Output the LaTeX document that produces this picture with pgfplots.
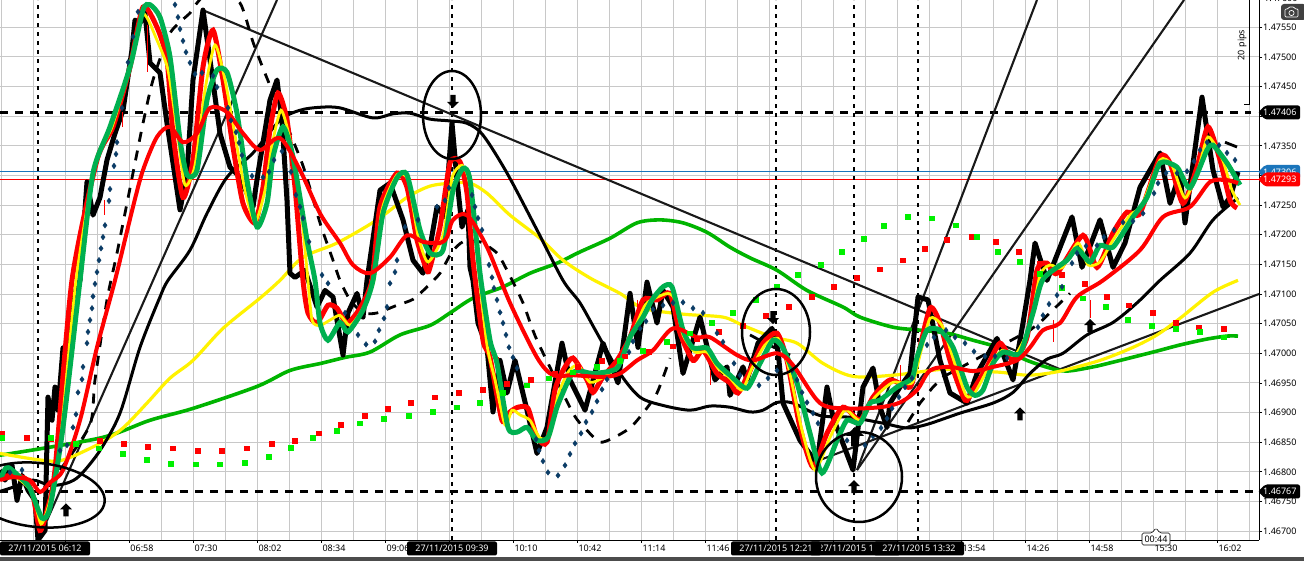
\documentclass[border=0pt]{standalone}
\usepackage{fontspec}
\setmainfont{Noto Sans}
\usepackage{pgfplots}
\pgfplotsset{compat=1.18}

\definecolor{gridc}{HTML}{C8C8C8}
\definecolor{fastgreen}{HTML}{00B050}
\definecolor{slowgreen}{HTML}{00B400}
\definecolor{navy}{HTML}{0B3C66}
\definecolor{psgreen}{HTML}{00F000}
\definecolor{bluetag}{HTML}{1B75BB}

% block arrows used on the chart
\pgfdeclareplotmark{uparrow}{%
  \pgfpathmoveto{\pgfqpoint{0pt}{7pt}}\pgfpathlineto{\pgfqpoint{6pt}{1pt}}\pgfpathlineto{\pgfqpoint{2.6pt}{1pt}}%
  \pgfpathlineto{\pgfqpoint{2.6pt}{-6pt}}\pgfpathlineto{\pgfqpoint{-2.6pt}{-6pt}}\pgfpathlineto{\pgfqpoint{-2.6pt}{1pt}}%
  \pgfpathlineto{\pgfqpoint{-6pt}{1pt}}\pgfpathclose\pgfusepathqfill}
\pgfdeclareplotmark{downarrow}{%
  \pgfpathmoveto{\pgfqpoint{0pt}{-7pt}}\pgfpathlineto{\pgfqpoint{6pt}{-1pt}}\pgfpathlineto{\pgfqpoint{2.6pt}{-1pt}}%
  \pgfpathlineto{\pgfqpoint{2.6pt}{6pt}}\pgfpathlineto{\pgfqpoint{-2.6pt}{6pt}}\pgfpathlineto{\pgfqpoint{-2.6pt}{-1pt}}%
  \pgfpathlineto{\pgfqpoint{-6pt}{-1pt}}\pgfpathclose\pgfusepathqfill}

\newcommand{\tickfont}{\fontsize{9}{10}\selectfont}
% picture coordinates: 1 px = 1 pt, y counted down from the top of the plot
\newcommand{\px}[2]{(#1pt,{540pt-(#2pt)})}
\newcommand{\datebox}[2]{\node[fill=black,text=white,rounded corners=2pt,inner sep=0pt,minimum width=90pt,minimum height=14pt,font=\tickfont] at \px{#1}{548.5} {#2};}
\newcommand{\flag}[4]{\begin{scope}[yshift={540pt-(#1pt)}]
  \fill[#2,rounded corners=2pt] (1265pt,7pt) -- (1300pt,7pt) -- (1300pt,-7pt) -- (1265pt,-7pt) -- (1258pt,0pt) -- cycle;
  \node[text=#3,anchor=west,inner sep=0pt,font=\tickfont] at (1263pt,0pt) {#4};
  \end{scope}}

\begin{document}
\begin{tikzpicture}
\path[use as bounding box] (0,-21pt) rectangle (1304pt,540pt);
\fill[white] (0,-21pt) rectangle (1304pt,540pt);
\fill[black!70] (0,-21pt) rectangle (1304pt,-17pt);
\begin{axis}[
  at={(0,0)},anchor=south west,
  scale only axis,width=1259pt,height=540pt,
  xmin=0,xmax=1259,ymin=1.46685,ymax=1.47596,
  axis x line=bottom,axis y line=right,
  axis line style={-,black,line width=0.9pt},
  xtick={65,129,193,257,321,385,449,513,577,641,705,769,833,897,961,1025,1089,1153,1217},
  xticklabels={06:26,06:58,07:30,08:02,08:34,09:06,09:38,10:10,10:42,11:14,11:46,12:18,12:50,13:22,13:54,14:26,14:58,15:30,16:02},
  minor xtick={1,33,97,161,225,289,353,417,481,545,609,673,737,801,865,929,993,1057,1121,1185,1249},
  ytick={1.467,1.4675,1.468,1.4685,1.469,1.4695,1.47,1.4705,1.471,1.4715,1.472,1.4725,1.473,1.4735,1.474,1.4745,1.475,1.4755},
  yticklabels={1.46700,1.46750,1.46800,1.46850,1.46900,1.46950,1.47000,1.47050,1.47100,1.47150,1.47200,1.47250,1.47300,1.47350,1.47400,1.47450,1.47500,1.47550},
  grid=both,
  grid style={gridc,line width=0.9pt},
  minor grid style={gridc,line width=0.9pt},
  tick align=outside,major tick length=3pt,minor tick length=0pt,
  tick style={black,line width=0.7pt},
  xticklabel style={font=\tickfont,xshift=13pt,yshift=-1pt,inner sep=1pt},
  yticklabel style={font=\tickfont,anchor=west,inner sep=1pt},
  axis on top=false,
]
% level lines
\addplot[black,line width=2.6pt,dash pattern=on 8pt off 7pt] coordinates {(0,1.47406) (1251,1.47406)};
\addplot[black,line width=2.6pt,dash pattern=on 8pt off 7pt] coordinates {(0,1.46767) (1259,1.46767)};
\addplot[bluetag,line width=0.9pt] coordinates {(0,1.47306) (1259,1.47306)};
\addplot[red,line width=0.9pt] coordinates {(0,1.47293) (1259,1.47293)};
\addplot[black,line width=2.6pt,dash pattern=on 4pt off 5pt] coordinates {(38,1.46685) (38,1.47596)};
\addplot[black,line width=2.6pt,dash pattern=on 4pt off 5pt] coordinates {(452,1.46685) (452,1.47596)};
\addplot[black,line width=2.6pt,dash pattern=on 4pt off 5pt] coordinates {(776,1.46685) (776,1.47596)};
\addplot[black,line width=2.6pt,dash pattern=on 4pt off 5pt] coordinates {(854,1.46685) (854,1.47596)};
\addplot[black,line width=2.6pt,dash pattern=on 4pt off 5pt] coordinates {(918,1.46685) (918,1.47596)};
% trend lines
\addplot[black!90,line width=2.1pt] coordinates {(47,1.46718) (277,1.47596)};
\addplot[black!90,line width=2.1pt] coordinates {(204,1.47578) (1063,1.46971)};
\addplot[black!90,line width=2.1pt] coordinates {(857,1.46803) (1037,1.47596)};
\addplot[black!90,line width=2.1pt] coordinates {(857,1.46803) (1184,1.47596)};
\addplot[black!90,line width=2.1pt] coordinates {(820,1.46820) (1259,1.47100)};
% parabolic dots
\addplot[only marks,mark=square*,mark size=2.4pt,mark options={red,draw=red}] coordinates {
(2,1.46865) (27,1.46858) (51,1.46855) (100,1.46852) (124,1.46847) (148,1.46843) (173,1.46840) (198,1.46836) (222,1.46836) (247,1.46840) (272,1.46847) (295,1.46853) (319,1.46865) (341,1.46880) (365,1.46895) (388,1.46907) (411,1.46917) (435,1.46926) (459,1.46933) (483,1.46939) (507,1.46948) (531,1.46956) (555,1.46966) (578,1.46978) (602,1.46988) (625,1.46995) (649,1.47002) (673,1.47012) (697,1.47025) (719,1.47036) (743,1.47047) (766,1.47063) (789,1.47078) (812,1.47095) (834,1.47112) (857,1.47128) (880,1.47142) (903,1.47157) (925,1.47176) (947,1.47191) (972,1.47196) (996,1.47188) (1019,1.47172) (1040,1.47152) (1062,1.47132) (1085,1.47118) (1107,1.47096) (1129,1.47081) (1153,1.47069) (1176,1.47052) (1199,1.47044) (1224,1.47042)};
\addplot[only marks,mark=square*,mark size=2.4pt,mark options={psgreen,draw=psgreen}] coordinates {
(2,1.46858) (51,1.46858) (76,1.46848) (99,1.46840) (123,1.46830) (147,1.46820) (171,1.46814) (196,1.46813) (220,1.46813) (245,1.46816) (269,1.46825) (291,1.46841) (313,1.46857) (337,1.46870) (360,1.46882) (384,1.46890) (409,1.46895) (433,1.46902) (457,1.46909) (480,1.46917) (503,1.46933) (527,1.46946) (549,1.46958) (573,1.46968) (597,1.46978) (620,1.46988) (643,1.47005) (667,1.47019) (690,1.47034) (712,1.47051) (733,1.47069) (756,1.47090) (777,1.47112) (798,1.47132) (821,1.47150) (842,1.47171) (864,1.47193) (884,1.47215) (908,1.47230) (932,1.47228) (956,1.47216) (977,1.47196) (998,1.47172) (1020,1.47154) (1040,1.47134) (1062,1.47110) (1083,1.47093) (1106,1.47078) (1128,1.47056) (1152,1.47046) (1176,1.47041) (1200,1.47037) (1224,1.47027)};
% slow averages
\addplot[slowgreen,line width=3.6pt,smooth,tension=0.5] coordinates {
(0,1.46828) (100,1.46857) (150,1.46887) (193,1.46907) (257,1.46944) (290,1.46971) (321,1.46983) (345,1.46993) (370,1.47002) (400,1.47031) (430,1.47047) (450,1.47068) (473,1.47093) (503,1.47112) (530,1.47135) (557,1.47152) (580,1.47171) (610,1.47194) (637,1.47220) (660,1.47225) (683,1.47220) (707,1.47204) (730,1.47179) (750,1.47161) (777,1.47140) (807,1.47106) (843,1.47078) (860,1.47061) (893,1.47044) (920,1.47039) (947,1.47034) (973,1.47022) (1000,1.47009) (1027,1.46988) (1050,1.46975) (1067,1.46970) (1093,1.46977) (1113,1.46985) (1153,1.47002) (1180,1.47014) (1207,1.47024) (1227,1.47029) (1238,1.47029)};
\addplot[yellow,line width=3.2pt,smooth,tension=0.5] coordinates {
(0,1.46831) (40,1.46820) (63,1.46820) (100,1.46848) (123,1.46874) (147,1.46916) (170,1.46958) (193,1.46988) (223,1.47042) (260,1.47093) (280,1.47123) (303,1.47162) (337,1.47186) (377,1.47225) (407,1.47263) (430,1.47282) (452,1.47287) (470,1.47287) (487,1.47270) (510,1.47233) (540,1.47194) (563,1.47157) (590,1.47127) (620,1.47101) (643,1.47076) (683,1.47066) (723,1.47061) (743,1.47047) (773,1.47027) (797,1.47017) (823,1.46983) (853,1.46961) (893,1.46963) (943,1.46973) (973,1.46970) (1000,1.46968) (1027,1.46963) (1047,1.46966) (1063,1.46971) (1100,1.46988) (1133,1.47010) (1157,1.47031) (1180,1.47059) (1213,1.47103) (1238,1.47123)};
% price
\addplot[black,line width=5pt,line join=round] coordinates {
(0,1.46803) (5,1.46786) (12,1.46811) (17,1.46752) (22,1.46794) (28,1.46769) (35,1.46752) (38,1.46685) (45,1.46701) (48,1.46926) (52,1.46887) (55,1.46943) (58,1.46904) (63,1.47009) (68,1.46980) (72,1.47090) (80,1.47123) (87,1.47289) (93,1.47233) (100,1.47263) (107,1.47326) (115,1.47371) (123,1.47410) (132,1.47512) (135,1.47562) (140,1.47557) (145,1.47574) (150,1.47490) (160,1.47473) (167,1.47388) (173,1.47321) (180,1.47242) (187,1.47304) (193,1.47461) (203,1.47579) (210,1.47495) (220,1.47371) (230,1.47314) (240,1.47297) (253,1.47247) (258,1.47304) (270,1.47427) (277,1.47461) (282,1.47393) (287,1.47258) (290,1.47135) (295,1.47128) (305,1.47140) (317,1.47078) (325,1.47106) (333,1.47095) (343,1.46997) (348,1.47068) (357,1.47101) (363,1.47061) (367,1.47123) (380,1.47275) (390,1.47287) (403,1.47225) (413,1.47157) (423,1.47135) (430,1.47179) (437,1.47247) (445,1.47230) (452,1.47388) (457,1.47292) (462,1.47213) (468,1.47242) (470,1.47145) (473,1.47123) (478,1.47051) (487,1.47010) (493,1.46901) (500,1.46988) (507,1.46933) (515,1.46988) (527,1.46904) (537,1.46831) (547,1.46875) (562,1.47017) (570,1.46955) (585,1.46904) (603,1.47017) (618,1.46950) (630,1.47101) (638,1.47010) (647,1.47120) (657,1.47051) (663,1.47106) (673,1.47078) (683,1.46966) (700,1.47061) (715,1.46955) (727,1.46977) (730,1.46929) (743,1.46977) (747,1.46955) (758,1.47017) (772,1.47042) (778,1.47005) (783,1.46916) (800,1.46853) (817,1.46814) (827,1.46943) (833,1.46892) (853,1.46803) (863,1.46943) (873,1.46975) (880,1.46909) (887,1.46875) (890,1.46916) (900,1.46943) (910,1.46966) (918,1.47095) (928,1.47090) (940,1.46988) (950,1.46933) (967,1.46916) (977,1.46966) (997,1.47025) (1013,1.46955) (1023,1.47051) (1030,1.47123) (1035,1.47186) (1047,1.47123) (1072,1.47230) (1082,1.47145) (1100,1.47225) (1113,1.47145) (1125,1.47186) (1140,1.47280) (1160,1.47338) (1170,1.47253) (1180,1.47304) (1185,1.47220) (1202,1.47432) (1213,1.47309) (1223,1.47247) (1230,1.47263) (1238,1.47306)};
% thin red wicks
\addplot[red,line width=0.9pt,unbounded coords=jump] coordinates {
(147,1.47554) (147,1.47474) (148,nan) (122,1.47407) (122,1.47382) (123,nan) (104,1.47258) (104,1.47233) (105,nan) (248,1.47301) (248,1.47270) (249,nan) (498,1.46993) (498,1.46971) (499,nan) (637,1.47090) (637,1.47073) (638,nan) (710,1.46971) (710,1.46946) (711,nan) (900,1.46980) (900,1.46946) (901,nan) (1053,1.47056) (1053,1.47019) (1054,nan) (1090,1.47090) (1090,1.47059)};
% dashed black average
\addplot[black,line width=2.8pt,dash pattern=on 10pt off 9pt,smooth,tension=0.4] coordinates {
(60,1.46803) (90,1.46879) (95,1.46955) (107,1.47090) (117,1.47169) (127,1.47253) (133,1.47304) (143,1.47388) (153,1.47461) (170,1.47540) (190,1.47574) (197,1.47591) (215,1.47620) (240,1.47591) (253,1.47525) (267,1.47464) (302,1.47321) (320,1.47220) (333,1.47157) (340,1.47123) (350,1.47090) (363,1.47068) (377,1.47068) (397,1.47081) (413,1.47091) (427,1.47112) (440,1.47135) (452,1.47171) (463,1.47188) (480,1.47188) (497,1.47169) (507,1.47140) (523,1.47085) (537,1.47022) (573,1.46899) (587,1.46870) (600,1.46850) (613,1.46857) (630,1.46874) (643,1.46899) (657,1.46933) (670,1.46992)};
\addplot[black,line width=2.8pt,dash pattern=on 10pt off 9pt] coordinates {(750,1.47031) (763,1.47019) (790,1.46997)};
\addplot[black,line width=2.8pt,dash pattern=on 10pt off 9pt] coordinates {(908,1.46884) (920,1.46916) (933,1.46943) (943,1.46960) (1030,1.47039) (1040,1.47052) (1070,1.47101)};
\addplot[black,line width=2.8pt] coordinates {(1225,1.47356) (1237,1.47348)};
% navy dotted average
\addplot[only marks,mark=diamond*,mark size=2.8pt,mark options={navy,draw=navy}] coordinates {
(10,1.46799) (22,1.46803) (60,1.46836) (67,1.46845) (73,1.46875) (76,1.46897) (78,1.46934) (82,1.46956) (83,1.46977) (87,1.47017) (88,1.47036) (90,1.47056) (92,1.47076) (93,1.47096) (95,1.47117) (97,1.47137) (99,1.47157) (101,1.47177) (103,1.47196) (105,1.47216) (109,1.47257) (110,1.47277) (114,1.47316) (116,1.47336) (117,1.47356) (122,1.47414) (128,1.47491) (133,1.47534) (138,1.47576) (175,1.47588) (178,1.47567) (180,1.47547) (183,1.47527) (186,1.47508) (190,1.47490) (195,1.47471) (202,1.47473) (213,1.47468) (217,1.47449) (228,1.47414) (231,1.47393) (236,1.47373) (239,1.47355) (242,1.47334) (252,1.47299) (263,1.47297) (269,1.47306) (274,1.47326) (282,1.47341) (291,1.47306) (296,1.47267) (300,1.47247) (303,1.47228) (309,1.47188) (322,1.47132) (328,1.47118) (345,1.47068) (358,1.47031) (366,1.47015) (375,1.47020) (379,1.47039) (384,1.47059) (387,1.47078) (390,1.47118) (395,1.47137) (397,1.47157) (405,1.47213) (418,1.47225) (437,1.47247) (445,1.47258) (449,1.47279) (472,1.47267) (475,1.47247) (478,1.47228) (482,1.47208) (489,1.47149) (492,1.47128) (494,1.47110) (497,1.47090) (500,1.47069) (503,1.47051) (506,1.47031) (509,1.47010) (513,1.46993) (517,1.46975) (536,1.46855) (539,1.46836) (543,1.46818) (548,1.46799) (558,1.46794) (565,1.46811) (570,1.46830) (575,1.46848) (581,1.46865) (586,1.46884) (592,1.46901) (597,1.46919) (602,1.46939) (607,1.46956) (629,1.47002) (633,1.47020) (640,1.47042) (646,1.47054) (653,1.47074) (663,1.47081) (673,1.47085) (683,1.47086) (693,1.47076) (703,1.47068) (717,1.47034) (723,1.47019) (734,1.46983) (740,1.46963) (759,1.46946) (768,1.46958) (777,1.46971) (792,1.46971) (797,1.46955) (802,1.46934) (807,1.46917) (813,1.46899) (818,1.46882) (847,1.46853) (865,1.46845) (873,1.46860) (881,1.46874) (887,1.46890) (892,1.46907) (899,1.46926) (905,1.46943) (912,1.46958) (927,1.47014) (934,1.47027) (946,1.47039) (955,1.47027) (965,1.47017) (974,1.47003) (985,1.46995) (995,1.46995) (1007,1.46992) (1038,1.47044) (1043,1.47064) (1049,1.47083) (1057,1.47098) (1062,1.47112) (1072,1.47152) (1077,1.47169) (1086,1.47181) (1097,1.47182) (1104,1.47196) (1114,1.47208) (1123,1.47221) (1133,1.47223) (1143,1.47236) (1154,1.47270) (1158,1.47287) (1166,1.47304) (1177,1.47304) (1187,1.47307) (1194,1.47324) (1200,1.47343) (1207,1.47356) (1219,1.47351) (1227,1.47338) (1235,1.47326)};
% slow black
\addplot[black,line width=3pt,smooth,tension=0.5] coordinates {
(0,1.46767) (13,1.46774) (33,1.46786) (50,1.46777) (67,1.46781) (80,1.46794) (100,1.46836) (120,1.46899) (140,1.47010) (160,1.47095) (168,1.47123) (190,1.47174) (207,1.47236) (227,1.47297) (253,1.47338) (280,1.47393) (300,1.47410) (320,1.47415) (340,1.47414) (373,1.47397) (393,1.47404) (410,1.47405) (430,1.47395) (450,1.47392) (467,1.47388) (483,1.47368) (507,1.47304) (537,1.47208) (563,1.47123) (580,1.47085) (597,1.47034) (620,1.46966) (640,1.46926) (663,1.46912) (690,1.46904) (710,1.46911) (730,1.46909) (750,1.46901) (763,1.46904) (777,1.46917) (793,1.46916) (820,1.46895) (850,1.46892) (883,1.46882) (907,1.46874) (927,1.46880) (960,1.46899) (993,1.46916) (1013,1.46934) (1030,1.46966) (1047,1.46990) (1063,1.47000) (1087,1.47031) (1113,1.47052) (1137,1.47085) (1160,1.47123) (1190,1.47169) (1213,1.47225) (1238,1.47262)};
% fast averages
\addplot[red,line width=5pt,smooth,tension=0.4] coordinates {
(0,1.46789) (10,1.46794) (25,1.46789) (33,1.46760) (40,1.46701) (47,1.46735) (55,1.46803) (72,1.47123) (97,1.47326) (113,1.47382) (130,1.47483) (143,1.47584) (157,1.47550) (167,1.47495) (173,1.47371) (183,1.47263) (193,1.47326) (203,1.47483) (213,1.47545) (223,1.47461) (233,1.47348) (243,1.47253) (255,1.47220) (263,1.47280) (270,1.47377) (278,1.47439) (287,1.47393) (295,1.47280) (303,1.47123) (308,1.47068) (317,1.47051) (328,1.47081) (337,1.47076) (347,1.47051) (360,1.47076) (372,1.47123) (380,1.47247) (397,1.47304) (407,1.47280) (417,1.47191) (427,1.47140) (430,1.47145) (440,1.47213) (450,1.47321) (460,1.47323) (467,1.47270) (473,1.47157) (483,1.47022) (490,1.46993) (502,1.46887) (510,1.46901) (518,1.46909) (528,1.46907) (537,1.46858) (547,1.46850) (555,1.46938) (563,1.46971) (573,1.46992) (587,1.46955) (593,1.46934) (603,1.46960) (617,1.46988) (630,1.47027) (643,1.47090) (657,1.47090) (670,1.47101) (680,1.47034) (693,1.46988) (703,1.47005) (717,1.46966) (730,1.46950) (738,1.46933) (750,1.46971) (763,1.47017) (777,1.47034) (787,1.46988) (800,1.46875) (813,1.46808) (827,1.46865) (843,1.46909) (860,1.46887) (873,1.46926) (890,1.46955) (910,1.46943) (917,1.46988) (930,1.47076) (940,1.47051) (950,1.46988) (965,1.46921) (973,1.46938) (987,1.46977) (1000,1.47017) (1013,1.46988) (1027,1.47027) (1037,1.47140) (1047,1.47152) (1057,1.47135) (1083,1.47199) (1097,1.47145) (1113,1.47203) (1127,1.47238) (1140,1.47236) (1160,1.47331) (1170,1.47321) (1183,1.47253) (1197,1.47314) (1208,1.47382) (1220,1.47326) (1230,1.47258) (1237,1.47245)};
\addplot[yellow,line width=2.8pt,smooth,tension=0.4] coordinates {
(15,1.46793) (32,1.46766) (41,1.46712) (50,1.46752) (60,1.46845) (76,1.47123) (95,1.47317) (112,1.47382) (130,1.47483) (143,1.47572) (157,1.47528) (168,1.47478) (177,1.47377) (185,1.47284) (195,1.47317) (205,1.47444) (215,1.47520) (225,1.47461) (235,1.47368) (245,1.47275) (255,1.47221) (265,1.47275) (272,1.47351) (281,1.47410) (290,1.47360) (300,1.47258) (307,1.47140) (312,1.47056) (320,1.47047) (330,1.47056) (340,1.47064) (350,1.47047) (362,1.47073) (374,1.47123) (382,1.47242) (397,1.47301) (408,1.47292) (418,1.47199) (428,1.47154) (443,1.47199) (452,1.47296) (462,1.47317) (470,1.47284) (478,1.47149) (487,1.47014) (495,1.46955) (505,1.46879) (512,1.46904) (520,1.46896) (530,1.46887) (540,1.46857) (550,1.46862) (558,1.46929) (568,1.46968) (578,1.46980) (590,1.46951) (604,1.46960) (618,1.46980) (632,1.47031) (645,1.47081) (655,1.47093) (668,1.47101) (675,1.47090) (683,1.47031) (695,1.47002) (707,1.47002) (718,1.46975) (730,1.46958) (742,1.46938) (752,1.46975) (765,1.47014) (778,1.47025) (788,1.46980) (802,1.46870) (815,1.46803) (830,1.46858) (845,1.46904) (860,1.46887) (875,1.46926) (893,1.46951) (912,1.46950) (920,1.46997) (930,1.47059) (942,1.47047) (952,1.46997) (966,1.46929) (975,1.46934) (990,1.46980) (1002,1.47005) (1015,1.46997) (1030,1.47047) (1040,1.47132) (1050,1.47149) (1062,1.47144) (1078,1.47186) (1088,1.47149) (1100,1.47154) (1113,1.47191) (1130,1.47233) (1142,1.47250) (1160,1.47326) (1172,1.47317) (1185,1.47262) (1198,1.47309) (1208,1.47365) (1222,1.47329) (1232,1.47275) (1240,1.47250)};
\addplot[fastgreen,line width=5pt,smooth,tension=0.4] coordinates {
(0,1.46786) (7,1.46808) (20,1.46791) (30,1.46772) (42,1.46722) (50,1.46740) (63,1.46875) (80,1.47123) (93,1.47304) (110,1.47382) (130,1.47483) (143,1.47579) (150,1.47588) (160,1.47567) (170,1.47500) (180,1.47360) (187,1.47301) (197,1.47309) (207,1.47427) (217,1.47478) (227,1.47474) (237,1.47405) (247,1.47292) (257,1.47213) (267,1.47253) (273,1.47331) (283,1.47382) (293,1.47331) (307,1.47191) (315,1.47123) (320,1.47051) (328,1.47022) (340,1.47052) (348,1.47036) (363,1.47073) (373,1.47123) (383,1.47236) (397,1.47296) (407,1.47301) (420,1.47208) (430,1.47169) (443,1.47174) (453,1.47275) (463,1.47312) (470,1.47292) (480,1.47135) (490,1.47022) (497,1.46983) (508,1.46875) (517,1.46867) (527,1.46875) (537,1.46853) (548,1.46858) (557,1.46909) (570,1.46960) (577,1.46971) (593,1.46966) (617,1.46975) (630,1.47027) (643,1.47061) (652,1.47090) (663,1.47112) (672,1.47112) (683,1.47039) (693,1.47009) (707,1.47009) (717,1.46983) (730,1.46963) (747,1.46941) (760,1.46983) (773,1.47022) (783,1.47009) (797,1.46950) (810,1.46865) (822,1.46798) (837,1.46853) (847,1.46887) (860,1.46882) (870,1.46916) (880,1.46921) (897,1.46943) (912,1.46958) (917,1.46993) (927,1.47039) (940,1.47039) (953,1.47010) (967,1.46943) (975,1.46929) (983,1.46938) (993,1.46983) (1003,1.47002) (1020,1.47000) (1033,1.47068) (1043,1.47125) (1067,1.47157) (1077,1.47177) (1090,1.47154) (1100,1.47182) (1113,1.47179) (1133,1.47230) (1147,1.47263) (1160,1.47321) (1177,1.47314) (1190,1.47279) (1207,1.47343) (1213,1.47351) (1227,1.47321) (1240,1.47284)};
% slow red on top of the fast ones
\addplot[red,line width=4pt,smooth,tension=0.5] coordinates {
(0,1.46786) (13,1.46791) (30,1.46786) (40,1.46766) (50,1.46782) (63,1.46803) (80,1.46887) (97,1.47010) (115,1.47123) (133,1.47247) (143,1.47309) (157,1.47365) (170,1.47382) (183,1.47356) (197,1.47371) (210,1.47414) (227,1.47407) (243,1.47371) (260,1.47343) (280,1.47363) (300,1.47309) (320,1.47236) (340,1.47186) (353,1.47149) (370,1.47135) (390,1.47162) (407,1.47199) (423,1.47188) (440,1.47186) (447,1.47196) (453,1.47225) (467,1.47233) (487,1.47179) (510,1.47085) (537,1.46993) (553,1.46963) (573,1.46963) (603,1.46960) (620,1.46966) (637,1.46988) (653,1.47005) (673,1.47042) (697,1.47027) (710,1.47027) (737,1.46997) (753,1.46988) (777,1.47000) (793,1.46980) (820,1.46916) (847,1.46907) (880,1.46909) (900,1.46917) (917,1.46938) (930,1.46971) (950,1.46977) (973,1.46970) (993,1.46977) (1017,1.46988) (1030,1.47010) (1043,1.47039) (1060,1.47051) (1077,1.47095) (1103,1.47123) (1140,1.47174) (1163,1.47230) (1190,1.47247) (1210,1.47289) (1227,1.47292) (1238,1.47287)};
% arrows
\addplot[only marks,mark=uparrow,mark options={black}] coordinates {(66,1.46735) (854,1.46774) (1020,1.46897) (1090,1.47046)};
\addplot[only marks,mark=uparrow,mark options={black,scale=1.5}] coordinates {(855,1.46858)};
\addplot[only marks,mark=downarrow,mark options={black}] coordinates {(453,1.47426) (773,1.47061)};
\end{axis}

% ellipses drawn by hand on the chart
\draw[black,line width=2.5pt,rotate around={-6:(38pt,45pt)}] \px{38}{495} ellipse [x radius=67pt,y radius=32pt];
\draw[black,line width=2.5pt] \px{452}{115} ellipse [x radius=29pt,y radius=44pt];
\draw[black,line width=2.5pt] \px{776}{332} ellipse [x radius=34pt,y radius=43pt];
\draw[black,line width=2.5pt] \px{859}{477} ellipse [x radius=43pt,y radius=45pt];

% pips ruler
\draw[black,line width=0.7pt] \px{1249}{-2} -- \px{1249}{104} -- \px{1244}{104};
\node[rotate=90,inner sep=0pt,font=\tickfont] at \px{1242}{45} {20 pips};
% clipped top tick label
\node[anchor=west,inner sep=0pt,font=\tickfont] at \px{1264}{-2} {1.47600};

% price flags
\flag{112.5}{black}{white}{1.47406}
\flag{172}{bluetag}{white}{1.47306}
\flag{179.5}{red}{white}{1.47293}
\flag{491.5}{black}{white}{1.46767}

% crosshair date labels
\datebox{45}{27/11/2015 06:12}
\datebox{855}{27/11/2015 13:01}
\datebox{452}{27/11/2015 09:39}
\datebox{776}{27/11/2015 12:21}
\datebox{919}{27/11/2015 13:32}

% countdown tag
\draw[black,fill=white,line width=0.6pt,rounded corners=1.5pt] \px{1142}{533} -- \px{1152}{533} -- \px{1156}{528} -- \px{1160}{533} -- \px{1170}{533} -- \px{1170}{545} -- \px{1142}{545} -- cycle;
\node[inner sep=0pt,font=\tickfont] at \px{1156}{539} {00:44};

% camera button
\fill[black!75,rounded corners=3pt] \px{1281}{4} rectangle \px{1306}{20};
\draw[white,line width=0.7pt,rounded corners=1pt] \px{1285}{9} -- \px{1288}{9} -- \px{1289}{7} -- \px{1294}{7} -- \px{1295}{9} -- \px{1298}{9} -- \px{1298}{17} -- \px{1285}{17} -- cycle;
\draw[white,line width=0.7pt] \px{1291.5}{13} circle [radius=2.6pt];
\end{tikzpicture}
\end{document}
